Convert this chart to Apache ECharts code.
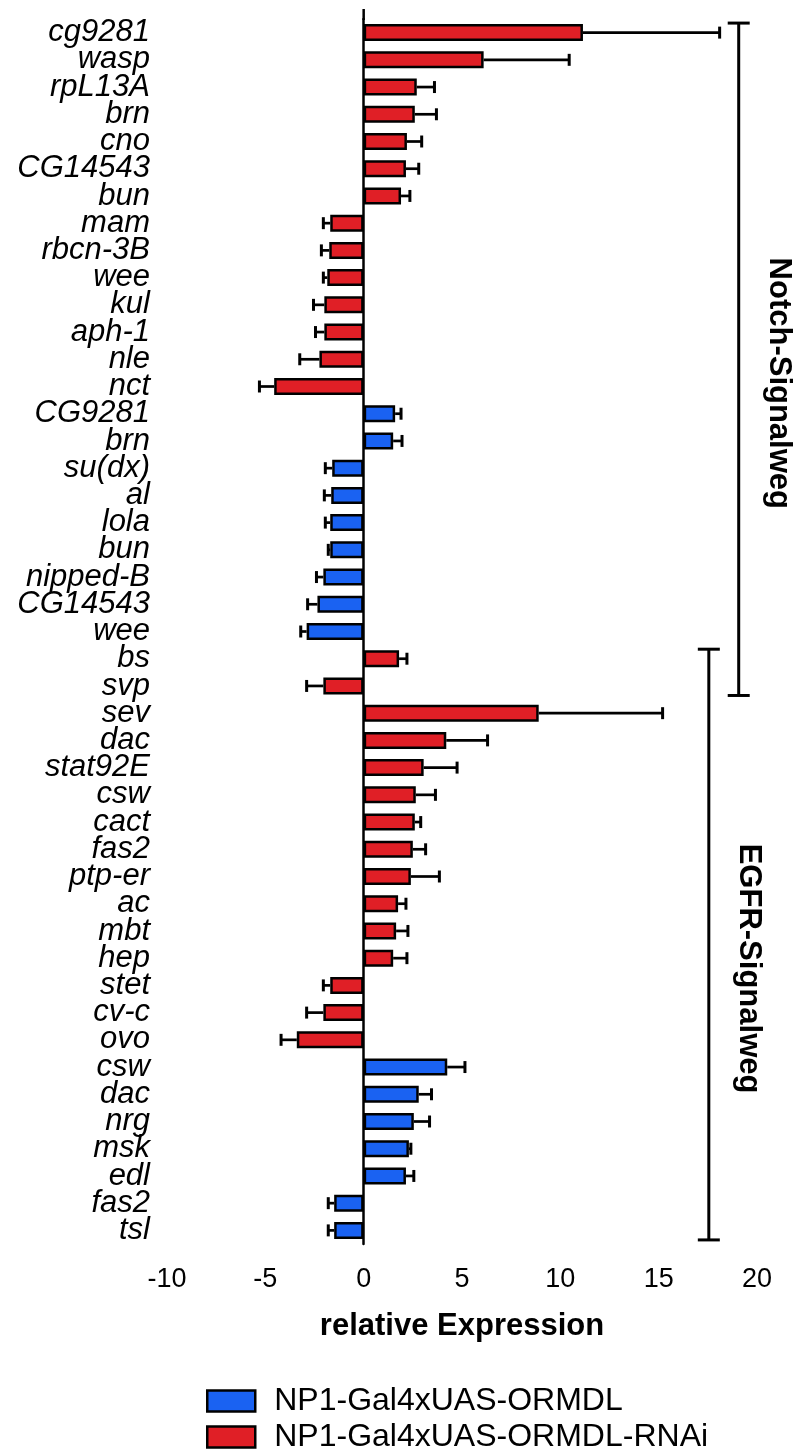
<!DOCTYPE html>
<html lang="en">
<head>
<meta charset="UTF-8">
<title>relative Expression</title>
<style>
    html, body { margin: 0; padding: 0; background: #fff; }
    #main { width: 794px; height: 1454px; }
</style>
</head>
<body>
<div id="main"></div>
<script src="https://cdn.jsdelivr.net/npm/echarts@6/dist/echarts.min.js"></script>
<script>
    // genes, top to bottom
    var genes = [
        'cg9281', 'wasp', 'rpL13A', 'brn', 'cno', 'CG14543', 'bun', 'mam', 'rbcn-3B', 'wee',
        'kul', 'aph-1', 'nle', 'nct', 'CG9281', 'brn', 'su(dx)', 'al', 'lola', 'bun',
        'nipped-B', 'CG14543', 'wee', 'bs', 'svp', 'sev', 'dac', 'stat92E', 'csw', 'cact',
        'fas2', 'ptp-er', 'ac', 'mbt', 'hep', 'stet', 'cv-c', 'ovo', 'csw', 'dac',
        'nrg', 'msk', 'edl', 'fas2', 'tsl'
    ];
    var ormdlValues = [
        null, null, null, null, null, null, null, null, null, null,
        null, null, null, null, 1.6, 1.5, -1.6, -1.65, -1.7, -1.7,
        -2.05, -2.35, -2.9, null, null, null, null, null, null, null,
        null, null, null, null, null, null, null, null, 4.25, 2.8,
        2.55, 2.3, 2.15, -1.5, -1.5
    ];
    var ormdlErrors = [
        null, null, null, null, null, null, null, null, null, null,
        null, null, null, null, 0.3, 0.45, 0.35, 0.35, 0.25, 0.1,
        0.35, 0.5, 0.3, null, null, null, null, null, null, null,
        null, null, null, null, null, null, null, null, 0.9, 0.65,
        0.8, 0.1, 0.4, 0.3, 0.3
    ];
    var rnaiValues = [
        11.15, 6.1, 2.7, 2.6, 2.2, 2.15, 1.9, -1.7, -1.75, -1.85,
        -2.0, -2.0, -2.25, -4.55, null, null, null, null, null, null,
        null, null, null, 1.8, -2.05, 8.9, 4.2, 3.05, 2.65, 2.6,
        2.5, 2.4, 1.75, 1.65, 1.5, -1.7, -2.05, -3.4, null, null,
        null, null, null, null, null
    ];
    var rnaiErrors = [
        6.95, 4.35, 0.9, 1.1, 0.75, 0.65, 0.45, 0.35, 0.4, 0.2,
        0.55, 0.45, 1.0, 0.75, null, null, null, null, null, null,
        null, null, null, 0.4, 0.85, 6.3, 2.1, 1.7, 1.0, 0.3,
        0.65, 1.45, 0.4, 0.6, 0.7, 0.35, 0.85, 0.8, null, null,
        null, null, null, null, null
    ];
    // pathway brackets on the right
    var pathways = ['Notch-Signalweg', 'EGFR-Signalweg'];
    var pathwayFrom = [0, 23];
    var pathwayTo = [24, 44];
    var pathwayX = [19.07, 17.55];

    var FONT = 'Liberation Sans, Arial, sans-serif';

    var errData = function (values, errors) {
        var arr = [];
        for (var i = 0; i < values.length; i++) {
            if (values[i] == null) continue;
            var end = values[i] < 0 ? values[i] - errors[i] : values[i] + errors[i];
            arr.push([values[i], end, i]);
        }
        return arr;
    };

    var renderError = function (params, api) {
        var y = api.value(2);
        var a = api.coord([api.value(0), y]);
        var b = api.coord([api.value(1), y]);
        var h = api.size([0, 1])[1] * 0.22;
        return {
            type: 'group',
            children: [
                {type: 'line', shape: {x1: a[0], y1: a[1], x2: b[0], y2: b[1]}, style: {stroke: '#000', lineWidth: 2.7}},
                {type: 'line', shape: {x1: b[0], y1: b[1] - h, x2: b[0], y2: b[1] + h}, style: {stroke: '#000', lineWidth: 3}}
            ]
        };
    };

    var renderBracket = function (params, api) {
        var x = api.value(0);
        var top = api.coord([x, api.value(1)]);
        var bottom = api.coord([x, api.value(2)]);
        var band = api.size([0, 1])[1];
        var y1 = top[1] - band * 0.35;
        var y2 = bottom[1] + band * 0.35;
        var cap = 11;
        var st = {stroke: '#000', lineWidth: 3};
        return {
            type: 'group',
            children: [
                {type: 'line', shape: {x1: top[0], y1: y1, x2: top[0], y2: y2}, style: st},
                {type: 'line', shape: {x1: top[0] - cap, y1: y1, x2: top[0] + cap, y2: y1}, style: st},
                {type: 'line', shape: {x1: top[0] - cap, y1: y2, x2: top[0] + cap, y2: y2}, style: st},
                {
                    type: 'text',
                    x: top[0] + 40,
                    y: (y1 + y2) / 2 + 24,
                    rotation: -Math.PI / 2,
                    style: {
                        text: pathways[params.dataIndex],
                        fontSize: 31,
                        fontWeight: 'bold',
                        fontFamily: FONT,
                        fill: '#000',
                        align: 'center',
                        verticalAlign: 'middle'
                    }
                }
            ]
        };
    };

    var bracketData = [];
    for (var k = 0; k < pathways.length; k++) {
        bracketData.push([pathwayX[k], pathwayFrom[k], pathwayTo[k]]);
    }

    var chart = echarts.init(document.getElementById('main'));
    var option = {
        animation: false,
        backgroundColor: '#fff',
        textStyle: {fontFamily: FONT},
        grid: {left: 167, right: 37, top: 19, bottom: 210},
        legend: {
            data: ['NP1-Gal4xUAS-ORMDL', 'NP1-Gal4xUAS-ORMDL-RNAi'],
            orient: 'vertical',
            left: 206,
            bottom: 1,
            padding: 0,
            itemWidth: 48,
            itemHeight: 21,
            itemGap: 4,
            icon: 'rect',
            itemStyle: {borderColor: '#000', borderWidth: 2.5},
            textStyle: {fontSize: 32, color: '#000', fontFamily: FONT, padding: [0, 0, 0, 14]}
        },
        xAxis: {
            type: 'value',
            min: -10,
            max: 20,
            interval: 5,
            splitLine: {show: false},
            axisLine: {onZero: false, lineStyle: {color: '#000', width: 2.5}},
            axisTick: {length: 9, lineStyle: {color: '#000', width: 2.5}},
            axisLabel: {fontSize: 27, color: '#000', margin: 22, fontFamily: FONT},
            name: 'relative Expression',
            nameLocation: 'middle',
            nameGap: 67,
            nameTextStyle: {fontSize: 31, fontWeight: 'bold', color: '#000', fontFamily: FONT}
        },
        yAxis: [
            {
                type: 'category',
                data: genes,
                inverse: true,
                axisLine: {show: false, onZero: false},
                axisTick: {show: false},
                axisLabel: {interval: 0, fontSize: 31, fontStyle: 'italic', color: '#000', margin: 17, fontFamily: FONT}
            },
            {
                type: 'category',
                data: genes,
                inverse: true,
                position: 'left',
                axisLine: {onZero: true, lineStyle: {color: '#000', width: 2.5}},
                axisTick: {show: false},
                axisLabel: {show: false}
            }
        ],
        series: [
            {
                name: 'NP1-Gal4xUAS-ORMDL',
                type: 'bar',
                barWidth: 17,
                barGap: '-100%',
                itemStyle: {color: '#1a62f2', borderColor: '#000', borderWidth: 2.5},
                data: ormdlValues
            },
            {
                name: 'NP1-Gal4xUAS-ORMDL-RNAi',
                type: 'bar',
                barWidth: 17,
                barGap: '-100%',
                itemStyle: {color: '#e01f26', borderColor: '#000', borderWidth: 2.5},
                data: rnaiValues
            },
            {
                name: 'err-ormdl',
                type: 'custom',
                renderItem: renderError,
                encode: {x: [0, 1], y: 2},
                z: 5,
                data: errData(ormdlValues, ormdlErrors)
            },
            {
                name: 'err-rnai',
                type: 'custom',
                renderItem: renderError,
                encode: {x: [0, 1], y: 2},
                z: 5,
                data: errData(rnaiValues, rnaiErrors)
            },
            {
                name: 'pathways',
                type: 'custom',
                renderItem: renderBracket,
                clip: false,
                encode: {x: 0, y: [1, 2]},
                data: bracketData
            }
        ]
    };
    chart.setOption(option);

    // zero line pokes a little above the first row
    var x0 = chart.convertToPixel({xAxisIndex: 0}, 0);
    chart.setOption({
        graphic: [{type: 'line', shape: {x1: x0, y1: 9, x2: x0, y2: 20}, style: {stroke: '#000', lineWidth: 2.5}}]
    });
</script>
</body>
</html>
